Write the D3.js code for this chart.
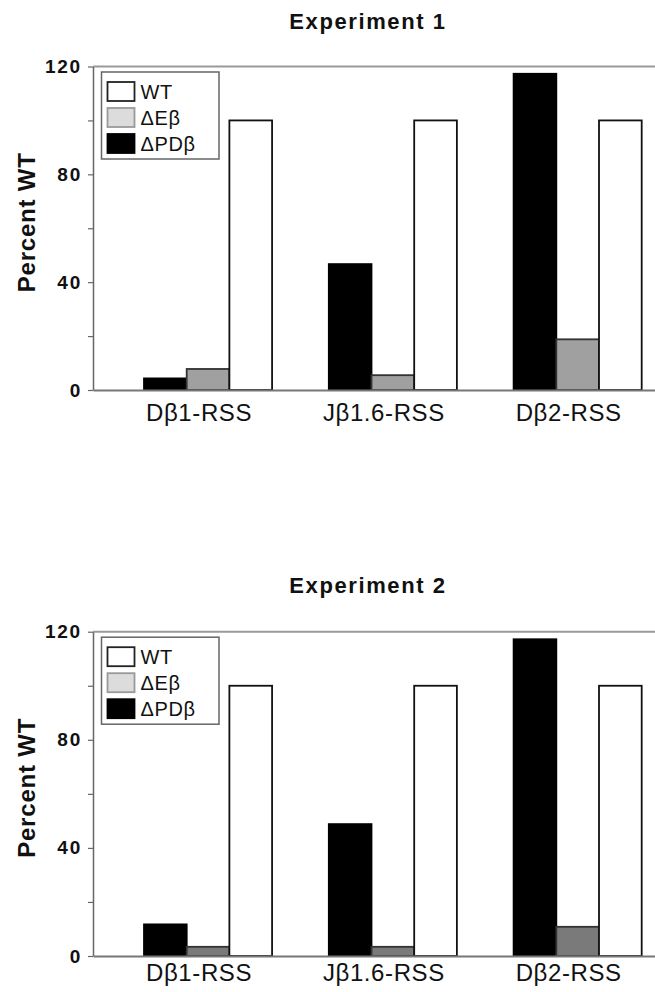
<!DOCTYPE html>
<html>
<head>
<meta charset="utf-8">
<script src="https://cdn.jsdelivr.net/npm/d3@7"></script>
<style>
  html, body { margin: 0; padding: 0; background: #fff; }
  svg { display: block; overflow: hidden; }
  text { font-family: "Liberation Sans", Arial, Helvetica, sans-serif; fill: #111; }
</style>
</head>
<body>
<svg id="chart" width="655" height="992"></svg>
<script>
// ---------- data ----------
const categories = ["D\u03b21-RSS", "J\u03b21.6-RSS", "D\u03b22-RSS"];
const seriesNames = ["\u0394PD\u03b2", "\u0394E\u03b2", "WT"];     // bar order within a group
const legendNames = ["WT", "\u0394E\u03b2", "\u0394PD\u03b2"];      // legend order
const titles = ["Experiment 1", "Experiment 2"];
const yTickValues = [0, 20, 40, 60, 80, 100, 120];
const yTickLabels = ["0", "", "40", "", "80", "", "120"];
const yTitle = "Percent WT";

const exp1PDb = [4.3, 46.7, 117.3];
const exp1Eb  = [7.8, 5.5, 18.8];
const exp1WT  = [100, 100, 100];

const exp2PDb = [11.7, 48.8, 117.2];
const exp2Eb  = [3.4, 3.4, 10.8];
const exp2WT  = [100, 100, 100];

// ---------- layout / style ----------
const panels = [
  { title: titles[0], series: [exp1PDb, exp1Eb, exp1WT], top: 66.5, bottom: 390, titleY: 29, labelY: 421.5, grayFill: "#a0a0a0" },
  { title: titles[1], series: [exp2PDb, exp2Eb, exp2WT], top: 631.7, bottom: 956, titleY: 593, labelY: 982, grayFill: "#7a7a7a" }
];
const legendFills = { "WT": "#ffffff", "\u0394E\u03b2": "#dcdcdc", "\u0394PD\u03b2": "#000000" };
const legendStrokes = { "WT": "#222", "\u0394E\u03b2": "#999", "\u0394PD\u03b2": "#000" };

const svg = d3.select("#chart");

const x0 = d3.scaleBand().domain(categories).range([93, 692.7]).paddingInner(0.307).paddingOuter(0.276);
const x1 = d3.scaleBand().domain(seriesNames).range([0, x0.bandwidth()]);

panels.forEach(p => {
  const g = svg.append("g");
  const y = d3.scaleLinear().domain([0, 120]).range([p.bottom, p.top]);

  // title
  g.append("text")
    .attr("x", 368).attr("y", p.titleY)
    .attr("text-anchor", "middle")
    .style("font-size", "22px").style("font-weight", "bold").style("letter-spacing", "1.6px")
    .text(p.title);

  // y title
  g.append("text")
    .attr("transform", `translate(35,${(p.top + p.bottom) / 2 - 6}) rotate(-90)`)
    .attr("text-anchor", "middle")
    .style("font-size", "24px").style("font-weight", "bold").style("letter-spacing", "0.8px")
    .text(yTitle);

  // top frame line
  g.append("line")
    .attr("x1", x0.range()[0]).attr("x2", x0.range()[1])
    .attr("y1", y(120)).attr("y2", y(120))
    .attr("stroke", "#9a9a9a").attr("stroke-width", 2);

  // bars
  const fills = ["#000000", p.grayFill, "#ffffff"];
  const strokes = ["#000000", "#333333", "#111111"];
  seriesNames.forEach((s, si) => {
    g.append("g").selectAll("rect")
      .data(categories.map((c, ci) => ({ c, v: p.series[si][ci] })))
      .join("rect")
      .attr("x", d => x0(d.c) + x1(s))
      .attr("width", x1.bandwidth())
      .attr("y", d => y(d.v))
      .attr("height", d => y(0) - y(d.v))
      .attr("fill", fills[si])
      .attr("stroke", strokes[si])
      .attr("stroke-width", 1.8);
  });

  // y axis
  const yAxis = d3.axisLeft(y)
    .tickValues(yTickValues)
    .tickSize(5).tickSizeOuter(0).tickPadding(6)
    .tickFormat((d, i) => yTickLabels[i]);
  const ya = g.append("g").attr("transform", "translate(93,0)").call(yAxis);
  ya.select(".domain").attr("stroke", "#666").attr("stroke-width", 1.5);
  ya.selectAll(".tick line").attr("stroke", "#666").attr("stroke-width", 1.2);
  ya.selectAll(".tick text")
    .style("font-size", "19px").style("font-weight", "bold").style("letter-spacing", "1.8px")
    .style("font-family", "'Liberation Sans', Arial, sans-serif").attr("fill", "#111");

  // x axis
  const xAxis = d3.axisBottom(x0).tickSize(0).tickSizeOuter(0).tickPadding(p.labelY - p.bottom - 18);
  const xa = g.append("g").attr("transform", `translate(0,${y(0)})`).call(xAxis);
  xa.select(".domain").attr("stroke", "#777").attr("stroke-width", 2);
  xa.selectAll(".tick text")
    .attr("dx", "-9")
    .style("font-size", "24px").style("letter-spacing", "0.6px")
    .style("font-family", "'Liberation Sans', Arial, sans-serif").attr("fill", "#111");

  // legend
  const lg = g.append("g").attr("transform", `translate(101.5,${p.top + 5.5})`);
  lg.append("rect").attr("width", 117.5).attr("height", 87)
    .attr("fill", "#fff").attr("stroke", "#666").attr("stroke-width", 1.5);
  legendNames.forEach((n, i) => {
    const row = lg.append("g").attr("transform", `translate(6,${10 + i * 26})`);
    row.append("rect").attr("width", 27).attr("height", 19)
      .attr("fill", legendFills[n]).attr("stroke", legendStrokes[n]).attr("stroke-width", 1.8);
    row.append("text").attr("x", 33).attr("y", 17)
      .style("font-size", "20px").style("letter-spacing", "0.6px")
      .text(n);
  });
});
</script>
</body>
</html>
